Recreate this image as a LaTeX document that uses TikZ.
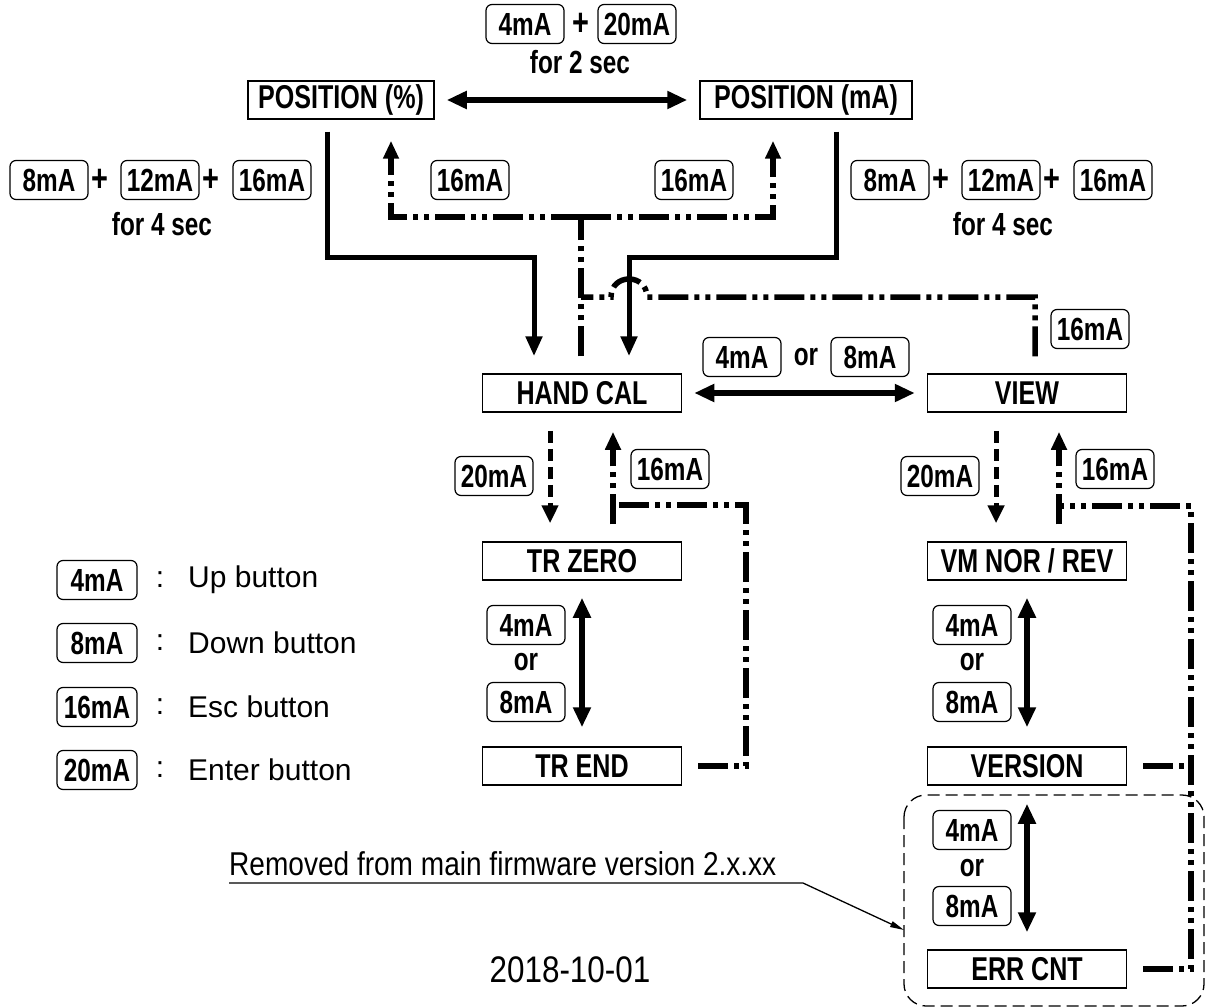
\documentclass[tikz,border=0pt]{standalone}
\usepackage{fontspec}
\setmainfont{Liberation Sans}
\newfontfamily\condbold[FakeStretch=0.76]{Liberation Sans}
\newfontfamily\condthin[FakeStretch=0.85]{Liberation Sans}
\usepackage{tikz}
\usetikzlibrary{arrows.meta,positioning,calc}
\newcommand{\mbfont}{\condbold\bfseries\fontsize{33}{33}\selectfont}
\newcommand{\btnfont}{\condbold\bfseries\fontsize{32}{32}\selectfont}
\newcommand{\legendfont}{\fontsize{30}{30}\selectfont}
\newcommand{\notefont}{\condthin\fontsize{33}{33}\selectfont}
\tikzset{
  menubox/.style={
    draw, line width=1.5pt, minimum height=38pt, minimum width=199pt,
    inner sep=0pt, font=\mbfont
  },
  btnbox/.style={
    draw, line width=1.2pt, rounded corners=6pt, minimum height=39pt,
    minimum width=78pt, inner sep=0pt, font=\btnfont
  },
  btntext/.style={inner sep=0pt, font=\btnfont},
  plussign/.style={inner sep=0pt, font=\condbold\bfseries\fontsize{38}{38}\selectfont},
  legendtext/.style={inner sep=0pt, font=\legendfont},
  solidflow/.style={line width=5pt, line join=miter, -{Triangle[length=20pt,width=16pt]}},
  dblarrow/.style={line width=6pt, {Triangle[length=20pt,width=17pt]}-{Triangle[length=20pt,width=17pt]}},
  escline/.style={line width=5.5pt, line join=miter,
    dash pattern=on 30pt off 6pt on 5pt off 6pt on 5pt off 6pt},
  esctip/.style={-{Triangle[length=18pt,width=15pt]}},
  enterline/.style={line width=5pt, dash pattern=on 12pt off 6pt,
    -{Triangle[length=18pt,width=16pt]}},
  removedframe/.style={line width=1.3pt, dash pattern=on 12pt off 6pt, rounded corners=22pt},
  leader/.style={line width=1.3pt, -{Triangle[length=14pt,width=6pt]}}
}
\begin{document}
\begin{tikzpicture}[x=1pt,y=-1pt]
  \useasboundingbox (0,0) rectangle (1206,1008);

  % menu boxes
  \node[menubox, minimum width=186pt] (posp) at (341,100) {POSITION (\%)};
  \node[menubox, minimum width=212pt] (posm) at (806,100) {POSITION (mA)};
  \node[menubox] (handcal) at (582,393) {HAND CAL};
  \node[menubox] (view) at (1027,393) {VIEW};
  \node[menubox] (trzero) at (582,561) {TR ZERO};
  \node[menubox] (trend) at (582,766) {TR END};
  \node[menubox] (vmnor) at (1027,561) {VM NOR / REV};
  \node[menubox] (version) at (1027,766) {VERSION};
  \node[menubox] (errcnt) at (1027,969) {ERR CNT};

  % POSITION (%) <-> POSITION (mA)
  \node[btnbox] (topup) at (525,24) {4mA};
  \node[plussign] (topplus) at (581,24) {+};
  \node[btnbox] (topenter) at (637,24) {20mA};
  \node[btntext] (toptime) at (580,62) {for 2 sec};
  \draw[dblarrow, shorten <=12pt, shorten >=12pt] (posp) -- (posm);

  % combos into HAND CAL
  \node[btnbox] (ldown) at (49,180) {8mA};
  \node[plussign] (lplusa) at (100,180) {+};
  \node[btnbox] (lmid) at (160,180) {12mA};
  \node[plussign] (lplusb) at (211,180) {+};
  \node[btnbox] (lesc) at (272,180) {16mA};
  \node[btntext] (ltime) at (162,224) {for 4 sec};
  \node[btnbox] (rdown) at (890,180) {8mA};
  \node[plussign] (rplusa) at (941,180) {+};
  \node[btnbox] (rmid) at (1001,180) {12mA};
  \node[plussign] (rplusb) at (1052,180) {+};
  \node[btnbox] (resc) at (1113,180) {16mA};
  \node[btntext] (rtime) at (1003,224) {for 4 sec};

  \coordinate (pospout) at ($(posp.south)+(-14,12)$);
  \coordinate (posmout) at ($(posm.south)+(30,12)$);
  \coordinate (hcinL) at ($(handcal.north)+(-48,-17)$);
  \coordinate (hcinR) at ($(handcal.north)+(47,-17)$);
  \coordinate (hcesc) at ($(handcal.north)+(-1,-17)$);
  \coordinate (pospesc) at ($(posp.south)+(50,21)$);
  \coordinate (posmesc) at ($(posm.south)+(-33,21)$);
  \coordinate (viewesc) at ($(view.north)+(8,-17)$);

  \draw[solidflow] (pospout) -- (327,257) -| (hcinL);
  \draw[solidflow] (posmout) -- (836,257) -| (hcinR);

  \draw[escline] (hcesc) -- (581,217);
  \draw[escline, esctip] (581,217) -| (pospesc);
  \draw[escline, esctip] (581,217) -| (posmesc);
  \node[btnbox] (escposp) at (470,180) {16mA};
  \node[btnbox] (escposm) at (694,180) {16mA};

  \draw[escline] (viewesc) -- (1035,297) -- (647,297)
    .. controls (647,273) and (611,273) .. (611,297) -- (581,297);
  \node[btnbox] (escview) at (1090,329) {16mA};

  % HAND CAL <-> VIEW
  \node[btnbox] (hvup) at (742,357) {4mA};
  \node[btntext] (hvor) at (806,357) {or};
  \node[btnbox] (hvdown) at (870,357) {8mA};
  \draw[dblarrow, shorten <=12pt, shorten >=12pt] (handcal) -- (view);

  % HAND CAL branch
  \draw[enterline] ($(handcal.south)+(-32,18)$) -- ($(trzero.north)+(-32,-18)$);
  \node[btnbox] (hcenter) at (494,476) {20mA};
  \draw[escline, esctip] ($(trzero.north)+(31,-17)$) -- ($(handcal.south)+(31,19)$);
  \node[btnbox] (hcback) at (670,469) {16mA};
  \draw[escline] ($(trend.east)+(16,0)$) -| (746,505) -- (613,505);

  \draw[dblarrow, shorten <=17pt, shorten >=19pt] (trzero) -- (trend);
  \node[btnbox] (trup) at (526,625) {4mA};
  \node[btntext] (tror) at (526,662) {or};
  \node[btnbox] (trdown) at (526,702) {8mA};

  % VIEW branch
  \draw[enterline] ($(view.south)+(-31,18)$) -- ($(vmnor.north)+(-31,-18)$);
  \node[btnbox] (vwenter) at (940,476) {20mA};
  \draw[escline, esctip] ($(vmnor.north)+(32,-17)$) -- ($(view.south)+(32,19)$);
  \node[btnbox] (vwback) at (1115,469) {16mA};
  \draw[escline] ($(errcnt.east)+(16,0)$) -| (1191,506) -- (1059,506);
  \draw[escline] ($(version.east)+(16,0)$) -- (1191,766);

  \draw[dblarrow, shorten <=17pt, shorten >=19pt] (vmnor) -- (version);
  \node[btnbox] (vmup) at (972,625) {4mA};
  \node[btntext] (vmor) at (972,662) {or};
  \node[btnbox] (vmdown) at (972,702) {8mA};

  \draw[dblarrow, shorten <=18pt, shorten >=17pt] (version) -- (errcnt);
  \node[btnbox] (erup) at (972,830) {4mA};
  \node[btntext] (eror) at (972,868) {or};
  \node[btnbox] (erdown) at (972,906) {8mA};

  % removed part
  \draw[removedframe] (904,795) rectangle (1204,1006);
  \node[anchor=south west, inner sep=0pt, font=\notefont] (removednote) at (229,876)
    {Removed from main firmware version 2.x.xx};
  \draw[leader] ($(removednote.south west)+(0,7)$) -- (803,883) -- (904,930);

  \node[inner sep=0pt, font=\condthin\fontsize{37}{37}\selectfont] (datenote) at (570,970) {2018-10-01};

  % legend
  \foreach \ma/\txt/\yy in {4mA/Up button/580, 8mA/Down button/643,
                            16mA/Esc button/707, 20mA/Enter button/770} {
    \node[btnbox, minimum width=80pt] (key\ma) at (97,\yy) {\ma};
    \node[legendtext] (keycolon\ma) at (160,\yy) {:};
    \node[legendtext, anchor=west] (keydesc\ma) at (188,\yy) {\txt};
  }
\end{tikzpicture}
\end{document}
